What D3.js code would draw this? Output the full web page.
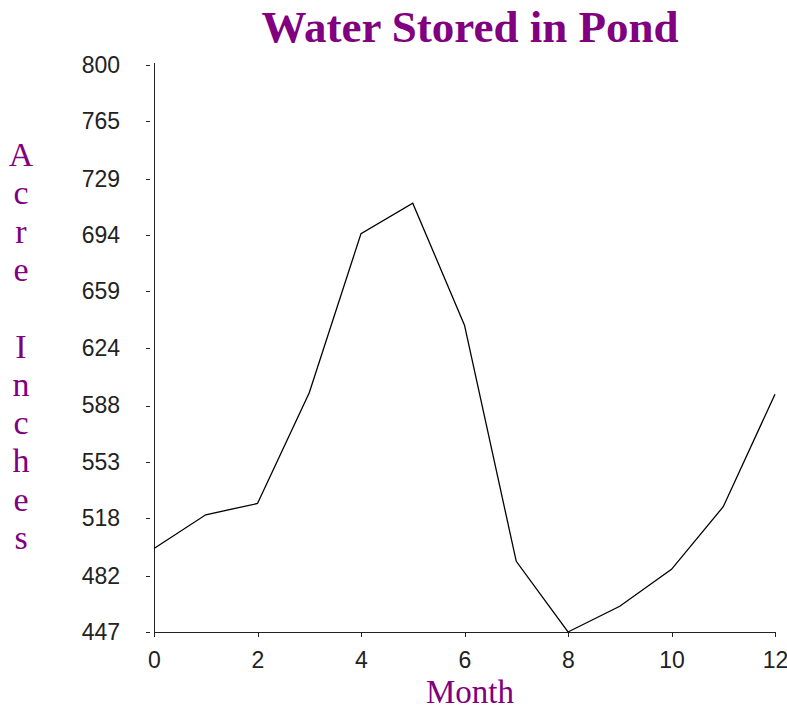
<!DOCTYPE html>
<html>
  <head>
    <meta charset="utf-8" />
    <style>
      body { margin: 0; background: #fff; }
    </style>
  </head>
  <body>

<svg id="graph"></svg>

<script src="https://d3js.org/d3.v7.min.js"></script>
<script>
// canvas size
const WIDTH = 787
const HEIGHT = 711
const PURPLE = '#800080'

// data
const MONTHS = [0, 1, 2, 3, 4, 5, 6, 7, 8, 9, 10, 11, 12]
const WATER = [499, 520, 527, 596, 695, 714, 638, 491, 447, 463, 486, 525, 595]
const Y_TICKS = [447, 482, 518, 553, 588, 624, 659, 694, 729, 765, 800]
const X_TICKS = [0, 2, 4, 6, 8, 10, 12]

// plot area
const LEFT = 154
const RIGHT = 775
const TOP = 65
const BOTTOM = 632

const svg = d3.select('#graph')
  .attr('width', WIDTH)
  .attr('height', HEIGHT)

const x = d3.scaleLinear()
  .domain([0, 12])
  .range([LEFT, RIGHT])

const y = d3.scaleLinear()
  .domain([447, 800])
  .range([BOTTOM, TOP])

// title
svg.append('text')
  .attr('x', 470)
  .attr('y', 42)
  .attr('text-anchor', 'middle')
  .attr('font-family', '"Liberation Serif", "Times New Roman", serif')
  .attr('font-weight', 'bold')
  .attr('font-size', 45)
  .attr('fill', PURPLE)
  .text('Water Stored in Pond')

// y axis, ticks are short dashes left of the line
const axisY = d3.axisLeft(y)
  .tickValues(Y_TICKS)
  .tickFormat(d3.format('d'))
  .tickSize(4)
  .tickSizeOuter(0)
  .tickPadding(30)

const gY = svg.append('g')
  .attr('transform', `translate(${LEFT},0)`)
  .call(axisY)
gY.select('.domain').remove()
gY.selectAll('.tick line')
  .attr('transform', 'translate(-4,0)')
  .attr('stroke', '#222')
  .attr('shape-rendering', 'crispEdges')
gY.selectAll('.tick text')
  .attr('font-family', '"Liberation Sans", Arial, sans-serif')
  .attr('font-size', 23)
  .attr('fill', '#222')

// x axis
const axisX = d3.axisBottom(x)
  .tickValues(X_TICKS)
  .tickSize(5)
  .tickSizeOuter(0)
  .tickPadding(15)

const gX = svg.append('g')
  .attr('transform', `translate(0,${BOTTOM})`)
  .call(axisX)
gX.select('.domain').remove()
gX.selectAll('.tick line')
  .attr('stroke', '#222')
  .attr('shape-rendering', 'crispEdges')
gX.selectAll('.tick text')
  .attr('font-family', '"Liberation Sans", Arial, sans-serif')
  .attr('font-size', 23)
  .attr('fill', '#222')

// axis lines
svg.append('line')
  .attr('x1', LEFT).attr('x2', LEFT)
  .attr('y1', y(800) - 2).attr('y2', y(447))
  .attr('stroke', '#222')
  .attr('shape-rendering', 'crispEdges')
svg.append('line')
  .attr('x1', LEFT).attr('x2', x(12))
  .attr('y1', y(447)).attr('y2', y(447))
  .attr('stroke', '#222')
  .attr('shape-rendering', 'crispEdges')

// the series
const line = d3.line()
  .x((d, i) => x(MONTHS[i]))
  .y(d => y(d))

svg.append('path')
  .datum(WATER)
  .attr('d', line)
  .attr('fill', 'none')
  .attr('stroke', '#000')
  .attr('stroke-width', 1.3)

// axis titles
svg.append('text')
  .attr('x', 470)
  .attr('y', 703)
  .attr('text-anchor', 'middle')
  .attr('font-family', '"Liberation Serif", "Times New Roman", serif')
  .attr('font-size', 33)
  .attr('fill', PURPLE)
  .text('Month')

// stacked letters, the space keeps an empty row
const yLabel = svg.append('text')
  .attr('text-anchor', 'middle')
  .attr('font-family', '"Liberation Serif", "Times New Roman", serif')
  .attr('font-size', 34)
  .attr('fill', PURPLE)

'Acre Inches'.split('').forEach((ch, i) => {
  yLabel.append('tspan')
    .attr('x', 21)
    .attr('y', 166 + i * 38.3)
    .text(ch === ' ' ? '\u00a0' : ch)
})

</script>
  </body>
</html>
